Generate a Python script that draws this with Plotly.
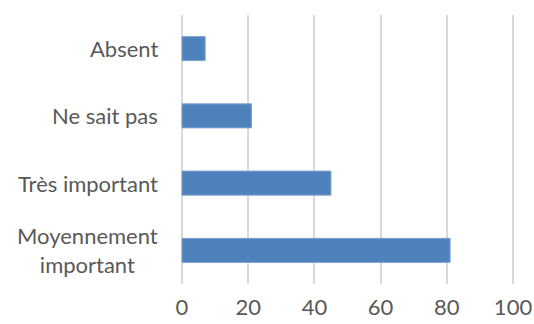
import plotly.graph_objects as go

categories = ["Moyennement<br>important", "Très important", "Ne sait pas", "Absent"]
values = [81, 45, 21, 7]
x_ticks = [0, 20, 40, 60, 80, 100]

FONT = "Lato, Carlito, Calibri, sans-serif"

fig = go.Figure(go.Bar(
    x=values, y=categories, orientation="h",
    marker=dict(color="#4F81BD", line=dict(color="#7FA3D3", width=1)),
    width=0.357,
))
for cat in categories:
    fig.add_annotation(x=0, xref="paper", y=cat, yref="y", text=cat,
                       showarrow=False, xanchor="right", align="center",
                       xshift=-20, font=dict(family=FONT, size=22, color="#595959"))
fig.update_layout(
    width=534, height=324,
    margin=dict(l=180, r=19, t=15, b=40),
    paper_bgcolor="white", plot_bgcolor="white",
    font=dict(family=FONT, size=22, color="#595959"),
    showlegend=False,
)
fig.update_xaxes(range=[-0.6, 100.6], tickvals=x_ticks, showgrid=True, gridcolor="#D9D9D9",
                 gridwidth=1.5, zeroline=False, showline=False, ticks="", ticklen=0,
                 ticklabelstandoff=8, automargin=False)
fig.update_yaxes(showgrid=False, zeroline=False, showline=False, ticks="",
                 showticklabels=False, automargin=False)
fig.write_html("out.html", config={"displayModeBar": False},
               post_script="document.body.style.margin='0';document.body.style.overflow='hidden';")
